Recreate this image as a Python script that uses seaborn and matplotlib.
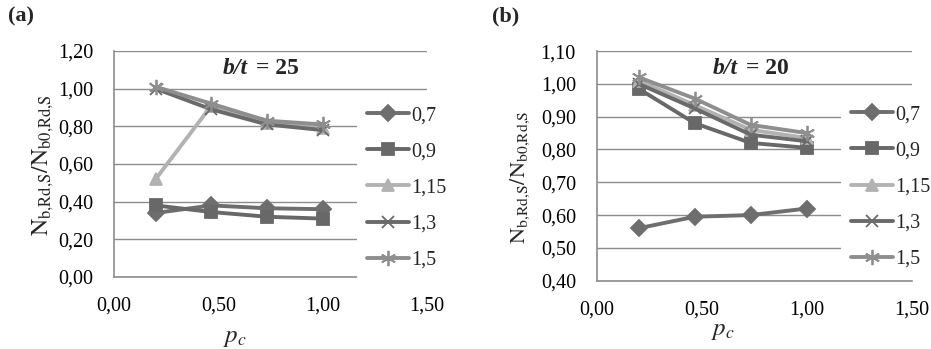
import matplotlib
matplotlib.use("Agg")
import matplotlib.pyplot as plt
import seaborn as sns
import numpy as np
import pandas as pd
from matplotlib.ticker import FuncFormatter, MultipleLocator

# ---- data ----
pc = [0.2, 0.467, 0.733, 1.0]
series_labels = ["0,7", "0,9", "1,15", "1,3", "1,5"]

a_07 = [0.34, 0.38, 0.365, 0.36]
a_09 = [0.38, 0.345, 0.32, 0.31]
a_115 = [0.52, 0.91, 0.82, 0.79]
a_13 = [1.00, 0.89, 0.81, 0.78]
a_15 = [1.01, 0.92, 0.83, 0.81]

b_07 = [0.56, 0.595, 0.60, 0.62]
b_09 = [0.985, 0.88, 0.82, 0.805]
b_115 = [1.01, 0.935, 0.86, 0.835]
b_13 = [1.00, 0.925, 0.845, 0.825]
b_15 = [1.02, 0.955, 0.875, 0.85]

colors = ["#6e6e6e", "#686868", "#b2b2b2", "#6a6a6a", "#8e8e8e"]
markers = ["D", "s", "^", "x", (6, 2, 0)]
msizes = [8, 9, 9, 9, 11]

sns.set_theme(style="white")
plt.rcParams["font.family"] = ["Liberation Serif", "DejaVu Serif"]
plt.rcParams["mathtext.fontset"] = "stix"

fig = plt.figure(figsize=(9.31, 3.49), dpi=100)
axA = fig.add_axes([0.1224, 0.2063, 0.3362, 0.6476])
axB = fig.add_axes([0.641, 0.1957, 0.3383, 0.658])

def comma(v, pos):
    return f"{v:.2f}".replace(".", ",")

def draw(ax, data, ylim, ystep, legend_anchor, ylab_size):
    for lab, vals, c, m, ms in zip(series_labels, data, colors, markers, msizes):
        df = pd.DataFrame({"pc": pc, "val": vals})
        sns.lineplot(data=df, x="pc", y="val", ax=ax, color=c, marker=m,
                     markersize=ms, markeredgecolor=c, markerfacecolor=c,
                     markeredgewidth=1.3, linewidth=2.8, label=lab,
                     solid_capstyle="round", solid_joinstyle="round")
    ax.set_xlim(0, 1.5)
    ax.set_ylim(*ylim)
    ax.xaxis.set_major_locator(MultipleLocator(0.5))
    ax.yaxis.set_major_locator(MultipleLocator(ystep))
    ax.xaxis.set_major_formatter(FuncFormatter(comma))
    ax.yaxis.set_major_formatter(FuncFormatter(comma))
    ax.grid(axis="y", color="#8c8c8c", linewidth=1.0)
    ax.grid(axis="x", visible=False)
    for s in ["top", "right"]:
        ax.spines[s].set_visible(False)
    for s in ["left", "bottom"]:
        ax.spines[s].set_color("#8c8c8c")
        ax.spines[s].set_linewidth(1.2)
    ax.tick_params(axis="both", which="major", direction="out", length=6,
                   width=1.2, color="#8c8c8c", labelsize=14.5, labelcolor="black")
    ax.tick_params(axis="y", pad=9)
    ax.tick_params(axis="x", pad=8)
    ax.set_ylabel(r"$\mathrm{N_{b{,}Rd{,}S}/N_{b0{,}Rd{,}S}}$", fontsize=ylab_size)
    ax.set_xlabel(r"$p_c$", fontsize=18)
    leg = ax.legend(loc="center left", bbox_to_anchor=legend_anchor,
                    frameon=True, fontsize=14.5, handlelength=2.1,
                    handletextpad=0.1, labelspacing=0.85, borderpad=0.5,
                    borderaxespad=0)
    leg.get_frame().set_facecolor("white")
    leg.get_frame().set_edgecolor("none")
    leg.get_frame().set_alpha(1)

draw(axA, [a_07, a_09, a_115, a_13, a_15], (0, 1.2), 0.2, (0.775, 0.394), 17)
draw(axB, [b_07, b_09, b_115, b_13, b_15], (0.4, 1.1), 0.1, (0.775, 0.408), 16)

axA.yaxis.set_label_coords(-0.185, 0.493)
axB.yaxis.set_label_coords(-0.205, 0.45)
axA.xaxis.set_label_coords(0.387, -0.221)
axB.xaxis.set_label_coords(0.40, -0.171)

# in-plot titles
fig.text(248 / 931, 1 - 68 / 349, "b/t", fontsize=17, fontweight="bold",
         fontstyle="italic", ha="right", va="center")
fig.text(256 / 931, 1 - 68 / 349, "= 25", fontsize=17, fontweight="bold",
         ha="left", va="center")
fig.text(738 / 931, 1 - 68 / 349, "b/t", fontsize=17, fontweight="bold",
         fontstyle="italic", ha="right", va="center")
fig.text(746 / 931, 1 - 68 / 349, "= 20", fontsize=17, fontweight="bold",
         ha="left", va="center")

# panel labels
fig.text(8 / 931, 1 - 16 / 349, "(a)", fontsize=16, fontweight="bold",
         ha="left", va="center")
fig.text(492 / 931, 1 - 16 / 349, "(b)", fontsize=16, fontweight="bold",
         ha="left", va="center")

fig.savefig("out.png", dpi=100)
